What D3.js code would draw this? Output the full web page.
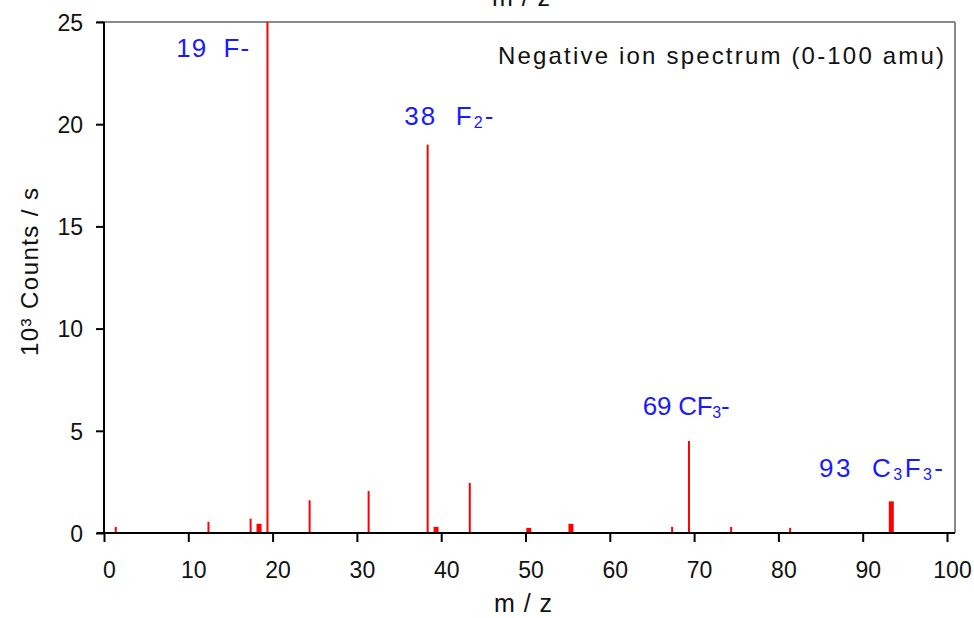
<!DOCTYPE html>
<html>
<head>
<meta charset="utf-8">
<script src="https://cdn.jsdelivr.net/npm/d3@7/dist/d3.min.js"></script>
<style>
  html, body { margin: 0; padding: 0; background: #fff; }
  svg { display: block; }
  text { font-family: "Liberation Sans", Arial, sans-serif; }
</style>
</head>
<body>
<svg id="chart" width="974" height="618"></svg>
<script>
// ---- data ----
const masses = [1, 12, 17, 18, 19, 24, 31, 38, 39, 43, 50, 55, 67, 69, 74, 81, 93];
const counts = [0.3, 0.55, 0.7, 0.45, 25, 1.6, 2.05, 19.0, 0.3, 2.45, 0.25, 0.45, 0.3, 4.5, 0.3, 0.25, 1.55];
const broadPeaks = [18, 39, 50, 55, 93];
const xTicks = [0, 10, 20, 30, 40, 50, 60, 70, 80, 90, 100];
const yTicks = [0, 5, 10, 15, 20, 25];
const annMass = [19, 38, 69, 93];
const annParts = [
  [["19  F-", false]],
  [["38  F", false], ["2", true], ["-", false]],
  [["69 CF", false], ["3", true], ["-", false]],
  [["93  C", false], ["3", true], ["F", false], ["3", true], ["-", false]]
];
const titleText = "Negative ion spectrum (0-100 amu)";
const xLabel = "m / z";
const yLabel = "10³ Counts / s";

(function () {
// ---- layout ----
const svg = d3.select("#chart");
const pLeft = 104, pRight = 947, pTop = 22, pBottom = 533, frameRight = 955;
const x = d3.scaleLinear().domain([0, 100]).range([pLeft, pRight]);
const y = d3.scaleLinear().domain([0, 25]).range([pBottom, pTop]);
const barShift = 3.3;

// frame (grey top and right)
svg.append("line").attr("x1", 97).attr("x2", frameRight).attr("y1", pTop).attr("y2", pTop)
  .attr("stroke", "#8a8a8a").attr("stroke-width", 2);
svg.append("line").attr("x1", frameRight).attr("x2", frameRight).attr("y1", pTop).attr("y2", pBottom)
  .attr("stroke", "#8a8a8a").attr("stroke-width", 2);

// bars
const peaks = masses.map((m, i) => ({ m, v: counts[i], broad: broadPeaks.includes(m) }));
svg.append("g").selectAll("rect").data(peaks).join("rect")
  .attr("x", d => x(d.m) + barShift - (d.broad ? 2.5 : 1))
  .attr("width", d => d.broad ? 5 : 2)
  .attr("y", d => y(d.v))
  .attr("height", d => y(0) - y(d.v))
  .attr("fill", "#ff0000");

// x axis
const gx = svg.append("g").attr("transform", `translate(0,${pBottom})`)
  .call(d3.axisBottom(x).tickValues(xTicks).tickSize(9).tickSizeOuter(0));
gx.select(".domain").remove();
gx.selectAll(".tick line").attr("stroke", "#000").attr("stroke-width", 2);
gx.selectAll(".tick text").attr("y", 45).attr("dy", 0).attr("dx", 5)
  .attr("font-size", 23).attr("fill", "#111").attr("font-family", "Liberation Sans, Arial, sans-serif");
svg.append("line").attr("x1", 97).attr("x2", frameRight).attr("y1", pBottom).attr("y2", pBottom)
  .attr("stroke", "#000").attr("stroke-width", 2);

// y axis
const gy = svg.append("g").attr("transform", `translate(${pLeft},0)`)
  .call(d3.axisLeft(y).tickValues(yTicks).tickSize(8).tickSizeOuter(0));
gy.select(".domain").remove();
gy.selectAll(".tick line").attr("stroke", "#000").attr("stroke-width", 2);
gy.selectAll(".tick text").attr("x", -21).attr("dy", "0.36em")
  .attr("font-size", 23).attr("fill", "#111").attr("font-family", "Liberation Sans, Arial, sans-serif");
svg.append("line").attr("x1", pLeft).attr("x2", pLeft).attr("y1", pTop).attr("y2", pBottom + 1)
  .attr("stroke", "#000").attr("stroke-width", 2);

// axis labels
svg.append("text").attr("x", 523).attr("y", 612).attr("text-anchor", "middle")
  .attr("font-size", 25).attr("fill", "#111").attr("textLength", 58).attr("lengthAdjust", "spacing")
  .text(xLabel);
svg.append("text").attr("x", 521).attr("y", 6).attr("text-anchor", "middle")
  .attr("font-size", 25).attr("fill", "#111").attr("textLength", 58).attr("lengthAdjust", "spacing")
  .text(xLabel);
svg.append("text").attr("transform", "translate(38,272) rotate(-90)").attr("text-anchor", "middle")
  .attr("font-size", 24).attr("fill", "#111").attr("textLength", 168).attr("lengthAdjust", "spacing")
  .text(yLabel);

// title inside plot
svg.append("text").attr("x", 498).attr("y", 64)
  .attr("font-size", 24).attr("fill", "#111").attr("textLength", 446).attr("lengthAdjust", "spacing")
  .text(titleText);

// annotations (offsets relative to peak position)
const annDx = [-91, -23, -46, -72];
const annY = [57, 125, 415, 477];
const annLen = [73, 89, 87, 124];
annMass.forEach((m, i) => {
  const t = svg.append("text")
    .attr("x", x(m) + 3 + annDx[i]).attr("y", annY[i])
    .attr("font-size", 26).attr("fill", "#1a1aff")
    .attr("textLength", annLen[i]).attr("lengthAdjust", "spacing")
    .style("white-space", "pre");
  annParts[i].forEach(([s, sub]) => {
    const ts = t.append("tspan").text(s);
    if (sub) ts.attr("font-size", 16).attr("baseline-shift", "-3");
  });
});
})();
</script>
</body>
</html>
